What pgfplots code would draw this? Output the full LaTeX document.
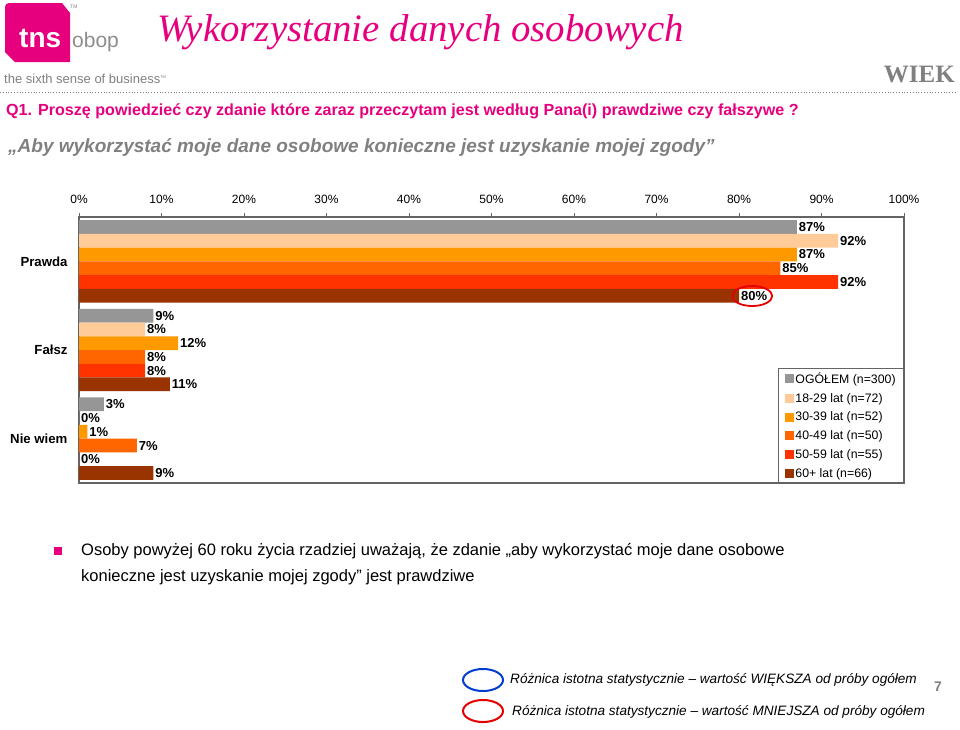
\documentclass[border=0pt]{standalone}
\usepackage{pgfplots}
\pgfplotsset{compat=1.18}
\usepackage{fontspec}
\setmainfont{Liberation Sans}
\newfontfamily\timesf{Liberation Serif}
\definecolor{cGray}{RGB}{150,150,150}
\definecolor{cPeach}{RGB}{255,204,153}
\definecolor{cOrange}{RGB}{255,153,0}
\definecolor{cDOrange}{RGB}{255,102,0}
\definecolor{cRed}{RGB}{255,51,0}
\definecolor{cBrown}{RGB}{153,51,0}
\definecolor{tnsPink}{RGB}{230,0,126}
\definecolor{txtGray}{RGB}{128,128,128}
\definecolor{frameGray}{RGB}{100,100,100}
\newcommand{\fs}[2]{\fontsize{#1}{#2}\selectfont}
\begin{document}
\begin{tikzpicture}
\useasboundingbox (0pt,0pt) rectangle (960pt,-729pt);
% logo
\fill[tnsPink] (9pt,-3pt) -- (62pt,-3pt) -- (70pt,-13pt) -- (70pt,-62pt) -- (15pt,-62pt) -- (5pt,-52pt) -- (5pt,-7pt) to[out=90,in=180] cycle;
\node[anchor=base west, inner sep=0, text=white, font=\bfseries\fs{28pt}{30pt}] at (19pt,-47pt) {tns};
\node[anchor=base west, inner sep=0, text=txtGray!90, font=\fs{21pt}{24pt}] at (72pt,-47pt) {obop};
\node[anchor=base west, inner sep=0, text=txtGray, font=\fs{5pt}{6pt}] at (70pt,-8pt) {TM};
\node[anchor=base west, inner sep=0, text=txtGray, font=\fs{13pt}{15pt}] at (4pt,-83pt) {the sixth sense of business\raisebox{5pt}{\fs{4pt}{5pt}TM}};
\draw[txtGray, dotted, line width=0.8pt] (0pt,-92pt) -- (955pt,-92pt);
% titles
\node[anchor=base west, inner sep=0, text=tnsPink, font=\timesf\itshape\fs{38.8pt}{42pt}] at (157pt,-41pt) {Wykorzystanie danych osobowych};
\node[anchor=base east, inner sep=0, text=txtGray, font=\timesf\bfseries\fs{25pt}{28pt}] at (955pt,-82pt) {WIEK};
\node[anchor=base west, inner sep=0, text=tnsPink, font=\bfseries\fs{16.1pt}{20pt}] at (6pt,-115pt) {Q1. Proszę powiedzieć czy zdanie które zaraz przeczytam jest według Pana(i) prawdziwe czy fałszywe ?};
\node[anchor=base west, inner sep=0, text=txtGray, font=\bfseries\itshape\fs{19pt}{22pt}] at (8pt,-152pt) {„Aby wykorzystać moje dane osobowe konieczne jest uzyskanie mojej zgody”};
% chart
\begin{axis}[
  at={(79pt,-483pt)}, anchor=south west,
  scale only axis, width=825pt, height=266pt,
  xbar, bar width=0.155,
  xmin=0, xmax=100, ymin=-0.5, ymax=2.5,
  /pgf/number format/assume math mode=true,
  xtick={0,10,...,100},
  xticklabel={\pgfmathprintnumber{\tick}\%},
  xticklabel pos=upper, xtick pos=upper,
  tick align=outside, major tick length=4pt,
  xticklabel style={font=\fs{12pt}{14pt}, yshift=6pt},
  ytick={0,1,2}, yticklabels={Nie wiem,Fałsz,Prawda},
  yticklabel style={font=\bfseries\fs{13.2pt}{15pt}, xshift=-4pt},
  ytick style={draw=none},
  axis line style={frameGray, line width=1.1pt},
  tick style={frameGray, line width=0.8pt},
  point meta=x,
  nodes near coords={\pgfmathprintnumber{\pgfplotspointmeta}\%},
  nodes near coords style={anchor=west, font=\bfseries\fs{13pt}{15pt}, inner sep=2pt, text=black},
  legend style={at={(1,0)}, anchor=south east, draw=frameGray, line width=0.8pt,
    font=\fs{12.3pt}{14pt}, row sep=8.3pt, inner xsep=6.5pt, inner ysep=4pt, legend cell align=left,
    nodes={inner xsep=1.5pt, inner ysep=0pt}},
  legend image code/.code={\fill[#1] (0pt,-4.5pt) rectangle (9pt,4.5pt);},
]
\addplot[fill=cGray, draw=none, bar shift=0.3875] coordinates {(87,2) (9,1) (3,0)};
\addplot[fill=cPeach, draw=none, bar shift=0.2325] coordinates {(92,2) (8,1) (0,0)};
\addplot[fill=cOrange, draw=none, bar shift=0.0775] coordinates {(87,2) (12,1) (1,0)};
\addplot[fill=cDOrange, draw=none, bar shift=-0.0775] coordinates {(85,2) (8,1) (7,0)};
\addplot[fill=cRed, draw=none, bar shift=-0.2325] coordinates {(92,2) (8,1) (0,0)};
\addplot[fill=cBrown, draw=none, bar shift=-0.3875] coordinates {(80,2) (11,1) (9,0)};
\legend{OGÓŁEM (n=300),18-29 lat (n=72),30-39 lat (n=52),40-49 lat (n=50),50-59 lat (n=55),60+ lat (n=66)}
\draw[red!90!black, line width=1.8pt] (axis cs:81.6,1.609) ellipse [x radius=20pt, y radius=10pt];
\end{axis}
% bottom text
\fill[tnsPink] (54pt,-547pt) rectangle (61.5pt,-554.5pt);
\node[anchor=base west, inner sep=0, font=\fs{16.5pt}{20pt}] at (81pt,-555pt) {Osoby powyżej 60 roku życia rzadziej uważają, że zdanie „aby wykorzystać moje dane osobowe};
\node[anchor=base west, inner sep=0, font=\fs{16.5pt}{20pt}] at (81pt,-581.5pt) {konieczne jest uzyskanie mojej zgody” jest prawdziwe};
% footer
\draw[blue!70!cyan!80!black, line width=2pt] (483pt,-680pt) ellipse [x radius=20pt, y radius=11pt];
\draw[red!90!black, line width=2pt] (483pt,-711pt) ellipse [x radius=20pt, y radius=11pt];
\node[anchor=base west, inner sep=0, font=\itshape\fs{13.6pt}{16pt}] at (510pt,-683pt) {Różnica istotna statystycznie – wartość WIĘKSZA od próby ogółem};
\node[anchor=base west, inner sep=0, font=\itshape\fs{13.6pt}{16pt}] at (512pt,-715pt) {Różnica istotna statystycznie – wartość MNIEJSZA od próby ogółem};
\node[anchor=base west, inner sep=0, text=txtGray, font=\bfseries\fs{14pt}{16pt}] at (934pt,-691pt) {7};
\end{tikzpicture}
\end{document}
